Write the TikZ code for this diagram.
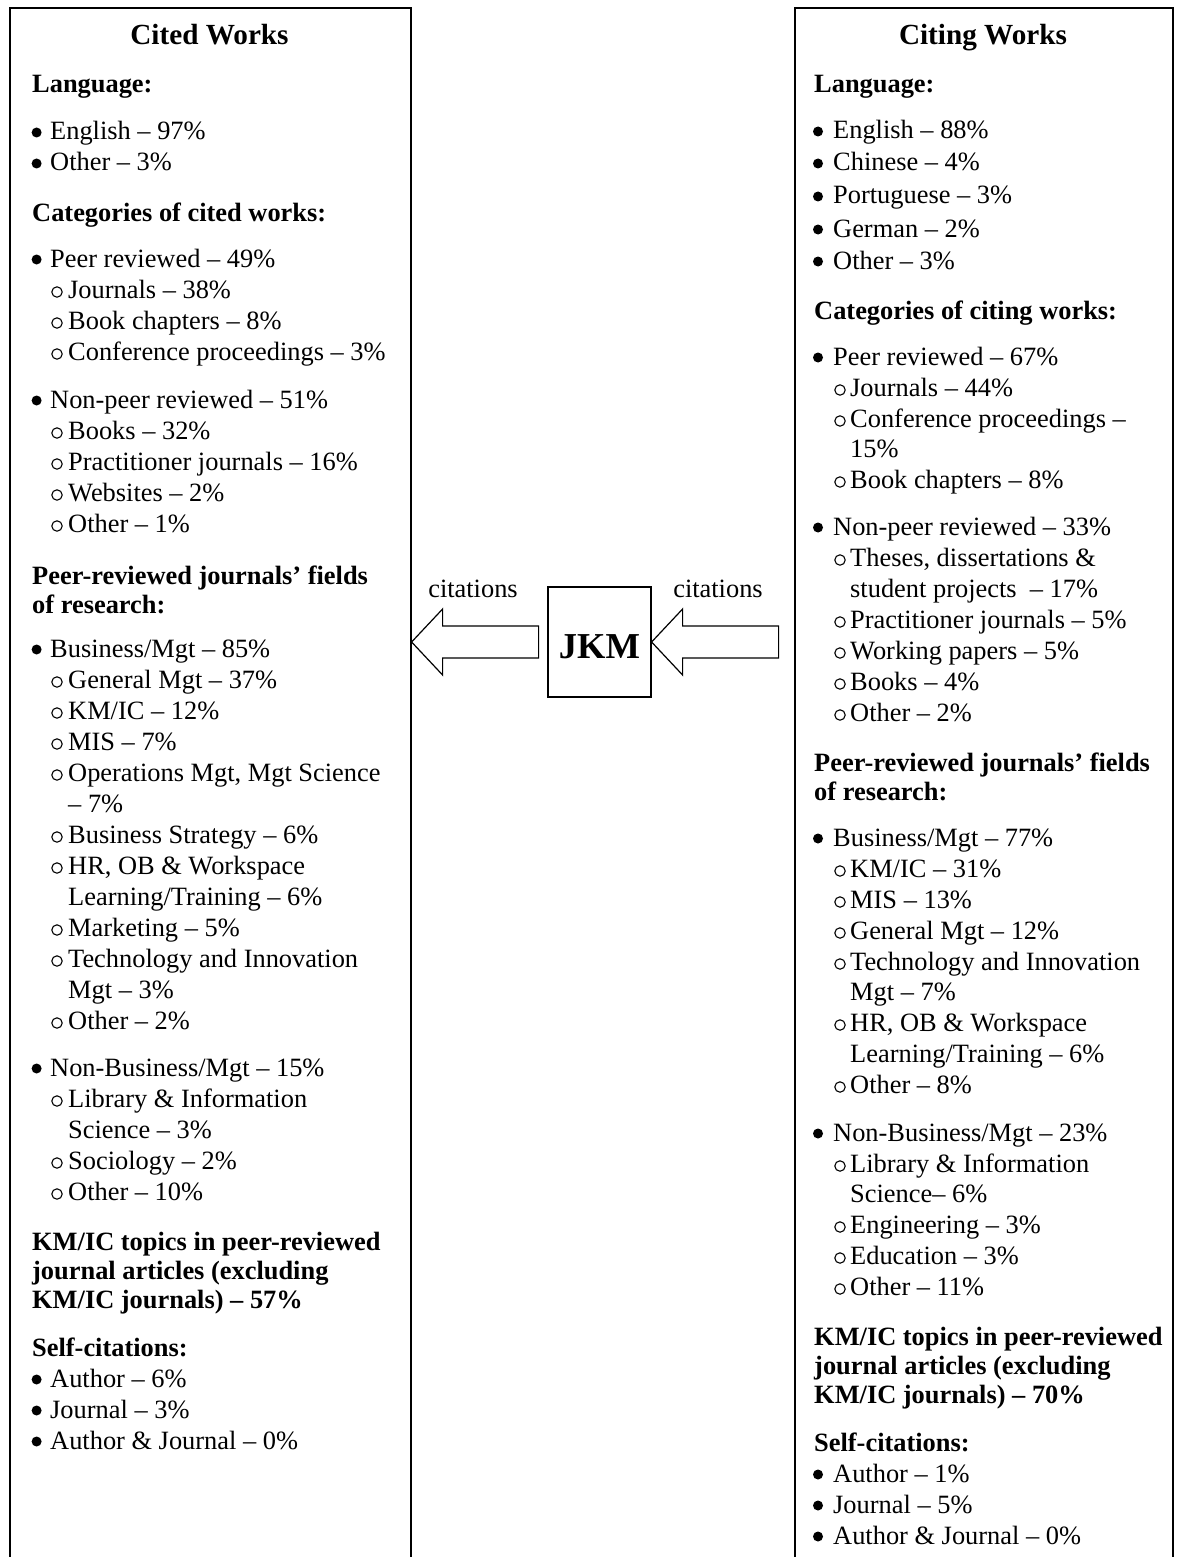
\documentclass[tikz,border=0pt]{standalone}
\usepackage{fontspec}
\setmainfont{Liberation Serif}
\newcounter{tn}
\tikzset{
  txt/.style={anchor=base west, inner sep=0pt, font=\fontsize{26.4}{31}\selectfont},
  hdr/.style={anchor=base west, inner sep=0pt, font=\fontsize{26.4}{31}\selectfont\bfseries},
  ttl/.style={anchor=base, inner sep=0pt, font=\fontsize{29.2}{34}\selectfont\bfseries},
  bigbox/.style={draw, line width=1.6pt, anchor=north west, inner sep=0pt, minimum height=1600pt},
  jkmbox/.style={draw, line width=1.2pt, inner sep=0pt, minimum width=103pt, minimum height=110pt},
  blockarrow/.style={draw, line width=1.2pt, line join=miter, fill=white},
  lbl/.style={anchor=base, inner sep=0pt, font=\fontsize{26.4}{31}\selectfont},
  dot/.style={fill=black},
  ring/.style={draw=black, line width=1.1pt},
}
\newcommand\TL[3]{\stepcounter{tn}\node[#1] (n\arabic{tn}) at (#2) {#3};}
% left column
\newcommand\LH[2]{\TL{hdr}{32,#1}{#2}}
\newcommand\LB[2]{\path[dot] (36.6,{#1-7.5}) circle (5);\TL{txt}{50,#1}{#2}}
\newcommand\LS[2]{\path[ring] (57,{#1-6}) circle (5.2);\TL{txt}{68,#1}{#2}}
\newcommand\LC[2]{\TL{txt}{68,#1}{#2}}
% right column
\newcommand\RH[2]{\TL{hdr}{814,#1}{#2}}
\newcommand\RB[2]{\path[dot] (818,{#1-7.5}) circle (5);\TL{txt}{833,#1}{#2}}
\newcommand\RS[2]{\path[ring] (840,{#1-6}) circle (5.2);\TL{txt}{850,#1}{#2}}
\newcommand\RC[2]{\TL{txt}{850,#1}{#2}}
\begin{document}
\begin{tikzpicture}[x=1pt,y=-1pt]
\useasboundingbox (0,0) rectangle (1181,1557);
\fill[white] (0,0) rectangle (1181,1557);
% boxes
\node[bigbox, minimum width=401pt] (cited) at (9,7) {};
\node[bigbox, minimum width=378pt] (citing) at (794,7) {};
\node[jkmbox] (jkm) at (599.5,642) {};
\node[anchor=base, inner sep=0pt, font=\fontsize{36.5}{40}\selectfont\bfseries] (jkmtext) at (599.5,658) {JKM};
% block arrows
\draw[blockarrow] (cited.east |- jkm.center) -- ++(31,-33) -- ++(0,17) -- ++(96,0) -- ++(0,32) -- ++(-96,0) -- ++(0,17) -- cycle;
\draw[blockarrow] (jkm.east) -- ++(31,-33) -- ++(0,17) -- ++(96,0) -- ++(0,32) -- ++(-96,0) -- ++(0,17) -- cycle;
\node[lbl] (citl) at (473,597) {citations};
\node[lbl] (citr) at (718,597) {citations};
% titles
\node[ttl] (t1) at (209.5,45) {Cited Works};
\node[ttl] (t2) at (983,45) {Citing Works};
% left column text
\LH{93}{Language:}
\LB{140}{English – 97\%}
\LB{171}{Other – 3\%}
\LH{221}{Categories of cited works:}
\LB{267}{Peer reviewed – 49\%}
\LS{298}{Journals – 38\%}
\LS{329}{Book chapters – 8\%}
\LS{360}{Conference proceedings – 3\%}
\LB{408}{Non-peer reviewed – 51\%}
\LS{439}{Books – 32\%}
\LS{470}{Practitioner journals – 16\%}
\LS{501}{Websites – 2\%}
\LS{532}{Other – 1\%}
\LH{584}{Peer-reviewed journals’ fields}
\LH{613}{of research:}
\LB{657}{Business/Mgt – 85\%}
\LS{688}{General Mgt – 37\%}
\LS{719}{KM/IC – 12\%}
\LS{750}{MIS – 7\%}
\LS{781}{Operations Mgt, Mgt Science}
\LC{812}{– 7\%}
\LS{843}{Business Strategy – 6\%}
\LS{874}{HR, OB \& Workspace}
\LC{905}{Learning/Training – 6\%}
\LS{936}{Marketing – 5\%}
\LS{967}{Technology and Innovation}
\LC{998}{Mgt – 3\%}
\LS{1029}{Other – 2\%}
\LB{1076}{Non-Business/Mgt – 15\%}
\LS{1107}{Library \& Information}
\LC{1138}{Science – 3\%}
\LS{1169}{Sociology – 2\%}
\LS{1200}{Other – 10\%}
\LH{1250}{KM/IC topics in peer-reviewed}
\LH{1279}{journal articles (excluding}
\LH{1308}{KM/IC journals) – 57\%}
\LH{1356}{Self-citations:}
\LB{1387}{Author – 6\%}
\LB{1418}{Journal – 3\%}
\LB{1449}{Author \& Journal – 0\%}
% right column text
\RH{93}{Language:}
\RB{139}{English – 88\%}
\RB{171}{Chinese – 4\%}
\RB{204}{Portuguese – 3\%}
\RB{237}{German – 2\%}
\RB{269}{Other – 3\%}
\RH{319}{Categories of citing works:}
\RB{365}{Peer reviewed – 67\%}
\RS{396}{Journals – 44\%}
\RS{427}{Conference proceedings –}
\RC{457}{15\%}
\RS{488}{Book chapters – 8\%}
\RB{535}{Non-peer reviewed – 33\%}
\RS{566}{Theses, dissertations \&}
\RC{597}{student projects \ – 17\%}
\RS{628}{Practitioner journals – 5\%}
\RS{659}{Working papers – 5\%}
\RS{690}{Books – 4\%}
\RS{721}{Other – 2\%}
\RH{771}{Peer-reviewed journals’ fields}
\RH{800}{of research:}
\RB{846}{Business/Mgt – 77\%}
\RS{877}{KM/IC – 31\%}
\RS{908}{MIS – 13\%}
\RS{939}{General Mgt – 12\%}
\RS{970}{Technology and Innovation}
\RC{1000}{Mgt – 7\%}
\RS{1031}{HR, OB \& Workspace}
\RC{1062}{Learning/Training – 6\%}
\RS{1093}{Other – 8\%}
\RB{1141}{Non-Business/Mgt – 23\%}
\RS{1172}{Library \& Information}
\RC{1202}{Science– 6\%}
\RS{1233}{Engineering – 3\%}
\RS{1264}{Education – 3\%}
\RS{1295}{Other – 11\%}
\RH{1345}{KM/IC topics in peer-reviewed}
\RH{1374}{journal articles (excluding}
\RH{1403}{KM/IC journals) – 70\%}
\RH{1451}{Self-citations:}
\RB{1482}{Author – 1\%}
\RB{1513}{Journal – 5\%}
\RB{1544}{Author \& Journal – 0\%}
\end{tikzpicture}
\end{document}
